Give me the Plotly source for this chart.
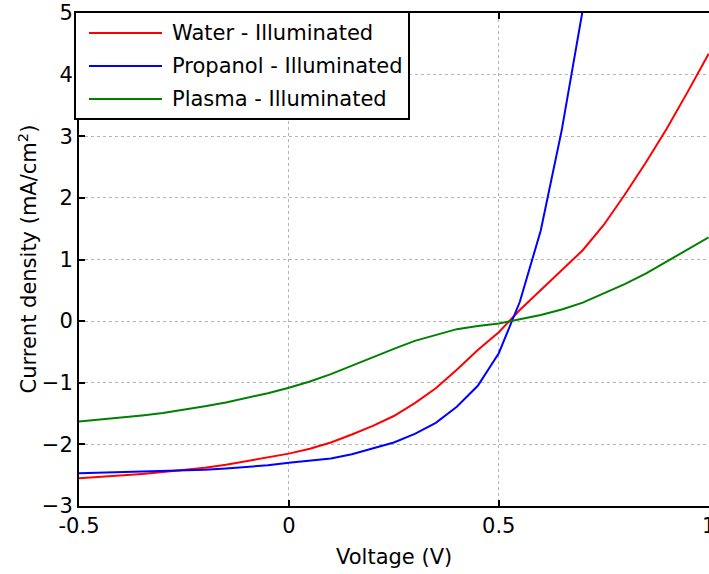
import plotly.graph_objects as go

# Voltage sweep (V)
voltage = [-0.50, -0.45, -0.40, -0.35, -0.30, -0.25, -0.20, -0.15, -0.10, -0.05,
           0.00, 0.05, 0.10, 0.15, 0.20, 0.25, 0.30, 0.35, 0.40, 0.45,
           0.50, 0.55, 0.60, 0.65, 0.70, 0.75, 0.80, 0.85, 0.90, 0.95, 1.00]

# Current density (mA/cm^2) under illumination
water = [-2.55, -2.53, -2.51, -2.48, -2.45, -2.42, -2.38, -2.33, -2.27, -2.21,
         -2.15, -2.07, -1.97, -1.84, -1.70, -1.54, -1.33, -1.09, -0.79, -0.47,
         -0.18, 0.18, 0.50, 0.82, 1.15, 1.56, 2.05, 2.57, 3.12, 3.72, 4.34]

propanol_v = voltage[:25]
propanol = [-2.47, -2.46, -2.45, -2.45, -2.44, -2.43, -2.41, -2.39, -2.37, -2.34,
            -2.30, -2.27, -2.23, -2.16, -2.07, -1.97, -1.83, -1.65, -1.39, -1.05,
            -0.52, 0.31, 1.47, 3.10, 5.05]

plasma = [-1.63, -1.60, -1.57, -1.53, -1.49, -1.44, -1.38, -1.32, -1.25, -1.17,
          -1.08, -0.98, -0.86, -0.72, -0.58, -0.45, -0.32, -0.22, -0.13, -0.08,
          -0.04, 0.03, 0.10, 0.19, 0.30, 0.45, 0.60, 0.77, 0.97, 1.16, 1.36]

series = [
    ("Water - Illuminated", voltage, water, "#ff0000"),
    ("Propanol - Illuminated", propanol_v, propanol, "#0000ff"),
    ("Plasma - Illuminated", voltage, plasma, "#008000"),
]

x_ticks = [-0.5, 0, 0.5, 1]
x_tick_text = ["-0.5", "0", "0.5", "1"]
y_ticks = [-3, -2, -1, 0, 1, 2, 3, 4, 5]

FONT = "DejaVu Sans"
W, H = 709, 574
ML, MR, MT, MB = 79, 0, 13, 68
PW, PH = W - ML - MR, H - MT - MB


def px_to_paper_x(px):
    return (px - ML) / PW


def px_to_paper_y(py):
    return (H - MB - py) / PH


fig = go.Figure()
for name, xs, ys, color in series:
    fig.add_trace(go.Scatter(x=xs, y=ys, mode="lines", name=name,
                             line=dict(color=color, width=2)))

axis_common = dict(
    showgrid=True, gridcolor="#b4b4b4", griddash="dot", gridwidth=1,
    zeroline=False, showline=True, linecolor="black", linewidth=2,
    ticks="inside", ticklen=6, tickwidth=2, tickcolor="black",
    ticklabeloverflow="allow", automargin=False,
    tickfont=dict(family=FONT, size=21, color="black"),
)

# the upper x limit sits a hair past 1 so the last tick and its label survive
fig.update_xaxes(range=[-0.5, 1.0008], tickmode="array", tickvals=x_ticks,
                 ticktext=x_tick_text, mirror="ticks", **axis_common)
fig.update_yaxes(range=[-3, 5], tickmode="array", tickvals=y_ticks,
                 mirror=False, **axis_common)

# Legend box with line samples
shapes = [dict(type="rect", xref="paper", yref="paper",
               x0=px_to_paper_x(75), x1=px_to_paper_x(409),
               y0=px_to_paper_y(119), y1=px_to_paper_y(12),
               line=dict(color="black", width=2), fillcolor="white",
               layer="above")]
annotations = []
row_y = [33, 66, 99]
for (name, _, _, color), ry in zip(series, row_y):
    shapes.append(dict(type="line", xref="paper", yref="paper",
                       x0=px_to_paper_x(89), x1=px_to_paper_x(162),
                       y0=px_to_paper_y(ry), y1=px_to_paper_y(ry),
                       line=dict(color=color, width=2), layer="above"))
    annotations.append(dict(text=name, xref="paper", yref="paper",
                            x=px_to_paper_x(170), y=px_to_paper_y(ry),
                            xanchor="left", yanchor="middle", showarrow=False,
                            font=dict(family=FONT, size=21, color="black")))

# Axis titles
annotations.append(dict(text="Voltage (V)", xref="paper", yref="paper",
                        x=0.5, y=px_to_paper_y(557), xanchor="center",
                        yanchor="middle", showarrow=False,
                        font=dict(family=FONT, size=21, color="black")))
annotations.append(dict(text="Current density (mA/cm<sup>2</sup>)",
                        xref="paper", yref="paper",
                        x=px_to_paper_x(27), y=0.5, xanchor="center",
                        yanchor="middle", textangle=-90, showarrow=False,
                        font=dict(family=FONT, size=21, color="black")))

fig.update_layout(
    width=W, height=H,
    margin=dict(l=ML, r=MR, t=MT, b=MB),
    paper_bgcolor="white", plot_bgcolor="white",
    showlegend=False,
    shapes=shapes, annotations=annotations,
)

fig.write_html("out.html")
